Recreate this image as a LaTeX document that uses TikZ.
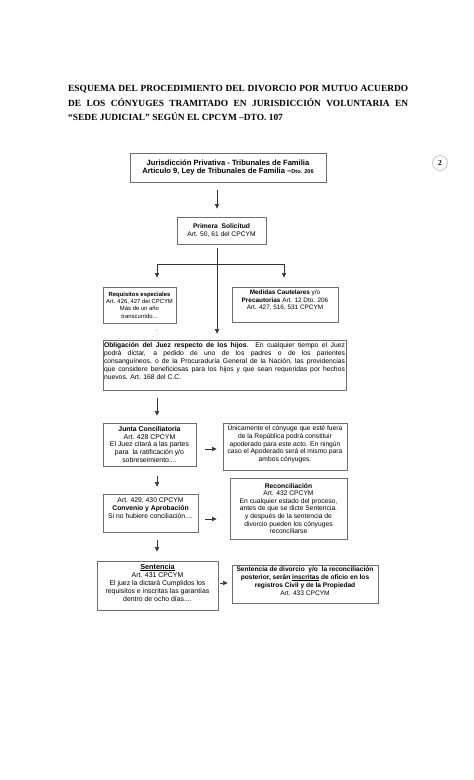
\documentclass[tikz,border=0pt]{standalone}
\usepackage{fontspec}
\setmainfont{Liberation Serif}
\newfontfamily\arial{Liberation Sans}
\usetikzlibrary{arrows.meta}
\definecolor{boxgray}{HTML}{6E6E6E}
\definecolor{linegray}{HTML}{333333}
\newcommand\myfs[2]{\fontsize{#1}{#2}\selectfont}
\newcommand\bxc[5]{\parbox[c][#2][c]{#1}{\arial\myfs{#3}{#4}\centering #5\par}}
\newcommand\bxt[6]{\parbox[c][#2][t]{#1}{\arial\myfs{#4}{#5}\centering\vspace*{#3}#6\par}}
\newcommand\myul[1]{\leavevmode\rlap{\rule[-0.9pt]{\widthof{#1}}{0.45pt}}#1}
\usepackage{calc}
\tikzset{
  box/.style={draw=boxgray, line width=0.9pt, inner sep=1pt, fill=white},
  ln/.style={draw=linegray, line width=0.6pt},
  arr/.style={draw=linegray, line width=0.6pt, -{Triangle[length=4.5pt,width=4.2pt]}},
}
\begin{document}
\begin{tikzpicture}[x=1pt,y=-1pt]
\fill[white] (0,0) rectangle (474,780);
\useasboundingbox (0,0) rectangle (474,780);

% title
\node[anchor=base west, inner sep=0pt] (title) at (68,91.5) {\parbox[t]{340pt}{\bfseries\myfs{9.4}{14.5}%
\hbox to\linewidth{ESQUEMA DEL PROCEDIMIENTO DEL DIVORCIO POR MUTUO ACUERDO}%
\hbox to\linewidth{DE LOS CÓNYUGES TRAMITADO EN JURISDICCIÓN VOLUNTARIA EN}%
\hbox{“SEDE JUDICIAL” SEGÚN EL CPCYM –DTO. 107}}};

% page number circle
\node[circle, draw=gray!45, line width=0.8pt, minimum size=15pt, inner sep=0pt, font=\bfseries\myfs{7.5}{7.5}] (pg) at (440,163) {2};

% boxes
\node[box] (box1) at (228,167.5) {\parbox[c][27pt][c]{194pt}{\arial\bfseries\myfs{7.6}{8.8}\centering Jurisdicción Privativa - Tribunales de Familia\\Articulo 9, Ley de Tribunales de Familia –{\myfs{5.6}{6}Dto. 206}\par}};

\node[box] (prim) at (221.5,230.5) {\bxc{87pt}{25pt}{6.7}{7.8}{\textbf{Primera\ \ Solicitud}\\Art. 50, 61 del CPCYM}};

\node[box] (req) at (139.5,305) {\bxc{71pt}{34pt}{5.9}{7.3}{\textbf{Requisitos especiales}\\Art. 426, 427 del CPCYM\\Más de un año\\transcurrido...}};

\node[box] (med) at (285,304.5) {\bxt{104pt}{33pt}{2pt}{6.4}{7.5}{\textbf{Medidas Cautelares} y/o\\\textbf{Precautorias} Art. 12 Dto. 206\\Art. 427, 516, 531 CPCYM}};

\node[box] (obl) at (224.5,365) {\parbox[c][48pt][t]{241pt}{\arial\myfs{6.8}{7.9}\vspace*{2pt}%
\hbox to\linewidth{\textbf{Obligación del Juez respecto de los hijos}.\ \ En cualquier tiempo el Juez}%
\hbox to\linewidth{podrá dictar, a pedido de uno de los padres o de los parientes}%
\hbox to\linewidth{consanguíneos, o de la Procuraduría General de la Nación, las providencias}%
\hbox to\linewidth{que considere beneficiosas para los hijos y que sean requeridas por hechos}%
\hbox{nuevos. Art. 168 del C.C.}\par}};

\node[box] (junta) at (149.5,444.5) {\bxc{91pt}{41pt}{6.9}{7.7}{\textbf{Junta Conciliatoria}\\Art. 428 CPCYM\\El Juez citará a las partes\\para\ \ la ratificación y/o\\sobreseimiento....}};

\node[box] (unic) at (285,446.5) {\bxt{122pt}{45pt}{1pt}{6.7}{7.7}{Únicamente el cónyuge que esté fuera\\de la República podrá constituir\\apoderado para este acto. En ningún\\caso el Apoderado será el mismo para\\ambos cónyuges.}};

\node[box] (conv) at (150.5,513) {\bxt{93pt}{36pt}{3pt}{6.8}{7.8}{Art. 429, 430 CPCYM\\\textbf{Convenio y Aprobación}\\Si no hubiere conciliación....}};

\node[box] (recon) at (288.5,508.5) {\bxc{115pt}{59pt}{6.7}{7.6}{\textbf{Reconciliación}\\Art. 432 CPCYM\\En cualquier estado del proceso,\\antes de que se dicte Sentencia.\\y después de la sentencia de\\divorcio pueden los cónyuges\\reconciliarse}};

\node[box] (sent) at (157.5,585.5) {\bxt{119pt}{47pt}{2.5pt}{6.9}{7.9}{{\bfseries\myfs{7.3}{7.9}\myul{Sentencia}}\\Art. 431 CPCYM\\El juez la dictará Cumplidos los\\requisitos e inscritas las garantías\\dentro de ocho días....}};

\node[box] (sdiv) at (305,584) {\bxt{144pt}{36pt}{1pt}{6.6}{7.8}{\textbf{Sentencia de divorcio\ \ y/o\ \ la reconciliación}\\\textbf{posterior, serán \myul{inscritas} de oficio en los}\\\textbf{registros Civil y de la Propiedad}\\Art. 433 CPCYM}};

% stray dot
\node[inner sep=0pt, font=\arial\myfs{6}{6}] (dot) at (157,331) {.};

% helper coordinates
\coordinate (sp) at (217,0);
\coordinate (lc) at (157,0);
\coordinate (bl) at (157,264);
\coordinate (brr) at (284,264);
\coordinate (h1) at (0,449);
\coordinate (h2) at (0,519);
\coordinate (h3) at (0,583);

% connectors
\draw[arr, shorten <=8pt, shorten >=8pt] (box1.south -| sp) -- (prim.north -| sp);
\draw[arr, shorten <=4pt, shorten >=6pt] (prim.south -| sp) -- (obl.north -| sp);
\draw[ln] (bl) -- (brr);
\draw[arr, shorten >=9pt] (bl) -- (req.north -| bl);
\draw[arr, shorten >=9pt] (brr) -- (med.north -| brr);
\draw[arr, shorten <=8pt, shorten >=7pt] (obl.south -| lc) -- (junta.north -| lc);
\draw[arr, shorten <=10pt, shorten >=7pt] (junta.south -| lc) -- (conv.north -| lc);
\draw[arr, shorten <=8pt, shorten >=9pt] (conv.south -| lc) -- (sent.north -| lc);
\draw[arr, shorten <=9pt, shorten >=6pt] (junta.east |- h1) -- (unic.west |- h1);
\draw[arr, shorten <=7pt, shorten >=13pt] (conv.east |- h2) -- (recon.west |- h2);
\draw[arr, shorten <=2pt, shorten >=4pt] (sent.east |- h3) -- (sdiv.west |- h3);
\end{tikzpicture}
\end{document}
